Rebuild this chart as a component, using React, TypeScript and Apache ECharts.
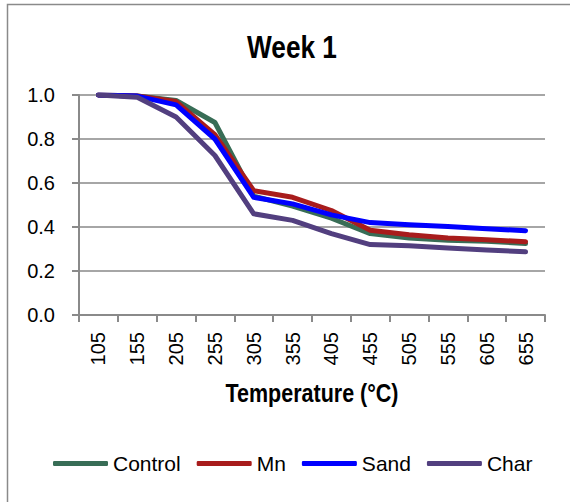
import React, { useEffect, useRef } from "react";
import * as echarts from "echarts";

const categories = ["105", "155", "205", "255", "305", "355", "405", "455", "505", "555", "605", "655"];
const control = [1.0, 0.995, 0.975, 0.875, 0.54, 0.495, 0.44, 0.37, 0.35, 0.34, 0.335, 0.325];
const mn = [1.0, 0.995, 0.97, 0.82, 0.565, 0.535, 0.475, 0.385, 0.365, 0.35, 0.342, 0.333];
const sand = [1.0, 0.995, 0.955, 0.8, 0.535, 0.505, 0.455, 0.42, 0.41, 0.402, 0.392, 0.383];
const char = [1.0, 0.99, 0.9, 0.725, 0.46, 0.43, 0.37, 0.32, 0.315, 0.305, 0.296, 0.287];
const yTicks = [0, 0.2, 0.4, 0.6, 0.8, 1.0];

const seriesNames = ["Control", "Mn", "Sand", "Char"];
const seriesData = [control, mn, sand, char];
const colors = ["#386d56", "#a81c1c", "#0000ff", "#523f7f"];

const TITLE = "Week 1";
const X_NAME = "Temperature (°C)";
const REG = "'Liberation Sans', Arial, sans-serif";

export default function App() {
  const ref = useRef<HTMLDivElement>(null);
  useEffect(() => {
    if (!ref.current) return;
    const chart = echarts.init(ref.current, undefined, { renderer: "svg" });
    chart.setOption({
      animation: false,
      backgroundColor: "#ffffff",
      color: colors,
      graphic: [
        {
          type: "rect",
          shape: { x: 7.5, y: 4.5, width: 620, height: 620 },
          style: { fill: "none", stroke: "#8a8a8a", lineWidth: 1.5 },
          silent: true,
        },
        {
          type: "text",
          x: 292,
          y: 47,
          scaleX: 0.82,
          style: {
            text: TITLE,
            x: 0,
            y: 0,
            align: "center",
            verticalAlign: "middle",
            fontFamily: REG,
            fontSize: 32,
            fontWeight: "bold",
            fill: "#000",
          },
          silent: true,
        },
        {
          type: "text",
          x: 312,
          y: 393,
          scaleX: 0.86,
          style: {
            text: X_NAME,
            x: 0,
            y: 0,
            align: "center",
            verticalAlign: "middle",
            fontFamily: REG,
            fontSize: 25,
            fontWeight: "bold",
            fill: "#000",
          },
          silent: true,
        },
      ],
      legend: {
        data: seriesNames,
        left: 53,
        top: 453,
        padding: 0,
        icon: "roundRect",
        itemWidth: 55,
        itemHeight: 5,
        itemGap: 16,
        textStyle: { fontFamily: REG, fontSize: 21, color: "#000" },
      },
      grid: { left: 79, right: 25, top: 95, bottom: 187, containLabel: false },
      xAxis: {
        type: "category",
        data: categories,
        boundaryGap: true,
        axisLine: { lineStyle: { color: "#8a8a8a", width: 2 } },
        axisTick: { show: true, length: 7, alignWithLabel: false, lineStyle: { color: "#8a8a8a", width: 2 } },
        axisLabel: { rotate: 90, margin: 17, fontFamily: REG, fontSize: 20, color: "#000", interval: 0 },
        splitLine: { show: false },
      },
      yAxis: {
        type: "value",
        min: 0,
        max: 1,
        interval: 0.2,
        axisLine: { show: true, lineStyle: { color: "#8a8a8a", width: 2 } },
        axisTick: { show: true, length: 7, lineStyle: { color: "#8a8a8a", width: 2 } },
        axisLabel: {
          margin: 24,
          fontFamily: REG,
          fontSize: 20,
          color: "#000",
          formatter: (v: number) => (yTicks.includes(Math.round(v * 10) / 10) ? v.toFixed(1) : ""),
        },
        splitLine: { show: true, lineStyle: { color: "#a6a6a6", width: 2 } },
      },
      series: seriesNames.map((name, i) => ({
        name,
        type: "line",
        data: seriesData[i],
        symbol: "none",
        smooth: false,
        lineStyle: { width: 5, color: colors[i], cap: "round", join: "round" },
        itemStyle: { color: colors[i] },
      })),
    });
    return () => chart.dispose();
  }, []);
  return (
    <div
      ref={ref}
      style={{ position: "fixed", left: 0, top: 0, width: 570, height: 502, background: "#fff" }}
    />
  );
}
